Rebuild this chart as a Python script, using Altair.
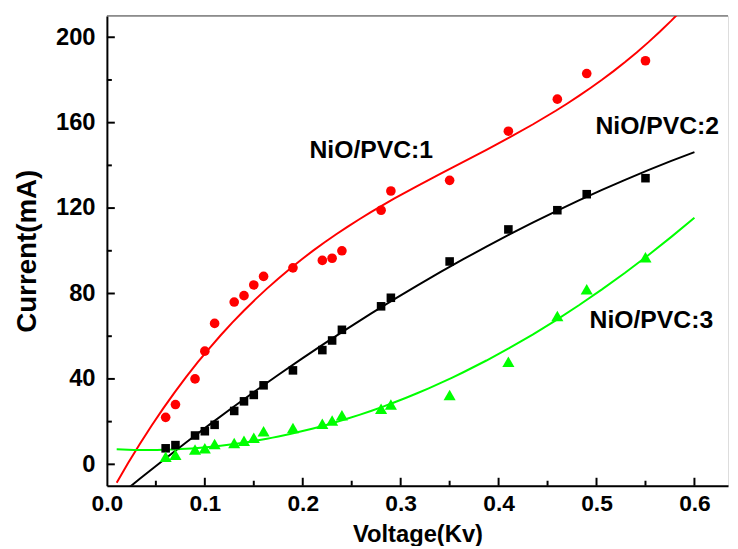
import altair as alt
import pandas as pd

# ---- data ----
voltage = [0.06, 0.07, 0.09, 0.10, 0.11, 0.13, 0.14, 0.15, 0.16, 0.19,
           0.22, 0.23, 0.24, 0.28, 0.29, 0.35, 0.41, 0.46, 0.49, 0.55]
current_1 = [22, 28, 40, 53, 66, 76, 79, 84, 88, 92,
             95.5, 96.5, 100, 119, 128, 133, 156, 171, 183, 189]
current_2 = [7.5, 9, 13.5, 15.5, 18.5, 25, 29.5, 32.5, 37, 44,
             53.5, 58, 63, 74, 78, 95, 110, 119, 126.5, 134]
current_3 = [3.5, 4.5, 7, 7.5, 9.5, 10, 11, 12.5, 15.5, 17,
             19, 20.5, 23, 26, 28, 32.5, 48, 69.5, 82, 97]

series_names = ["NiO/PVC:1", "NiO/PVC:2", "NiO/PVC:3"]
series_colors = ["#ff0000", "#000000", "#00ff00"]
series_shapes = ["circle", "square", "triangle-up"]
series_sizes = [95, 75, 150]
fit_orders = [3, 2, 2]

label_x = [0.27, 0.562, 0.556]
label_y = [147, 158.5, 67.5]

x_labels = [0.0, 0.1, 0.2, 0.3, 0.4, 0.5, 0.6]
x_minor = [0.05, 0.15, 0.25, 0.35, 0.45, 0.55]
y_labels = [0, 40, 80, 120, 160, 200]
y_minor = [20, 60, 100, 140, 180]

rows = []
for name, cur in zip(series_names, [current_1, current_2, current_3]):
    for v, c in zip(voltage, cur):
        rows.append({"series": name, "V": v, "I": c})
df = pd.DataFrame(rows)
labels_df = pd.DataFrame({"text": series_names, "V": label_x, "I": label_y})

W, H = 628, 475
FONT = "Liberation Sans"

xscale = alt.Scale(domain=[0, 0.6343], nice=False, zero=False)
yscale = alt.Scale(domain=[-10, 210], nice=False, zero=False)
color = alt.Color("series:N", scale=alt.Scale(domain=series_names, range=series_colors), legend=None)

xaxis = alt.Axis(values=x_labels, format=".1f", ticks=False, grid=False,
                 domainColor="black", domainWidth=2,
                 labelFont=FONT, labelFontSize=23, labelFontWeight="bold", labelColor="black",
                 labelPadding=7, labelFlush=False,
                 title="Voltage(Kv)", titleFont=FONT, titleFontSize=24, titleFontWeight="bold",
                 titleColor="black", titleBaseline="alphabetic", titleY=56)
yaxis = alt.Axis(values=y_labels, ticks=False, grid=False,
                 domainColor="black", domainWidth=2,
                 labelFont=FONT, labelFontSize=24, labelFontWeight="bold", labelColor="black",
                 labelPadding=12, labelFlush=False,
                 title="Current(mA)", titleFont=FONT, titleFontSize=28, titleFontWeight="bold",
                 titleColor="black", titlePadding=14)

base = alt.Chart(df)

point_layers = []
for i, (name, shp, sz) in enumerate(zip(series_names, series_shapes, series_sizes)):
    enc_x = alt.X("V:Q", scale=xscale, axis=xaxis) if i == 0 else alt.X("V:Q", scale=xscale)
    enc_y = alt.Y("I:Q", scale=yscale, axis=yaxis) if i == 0 else alt.Y("I:Q", scale=yscale)
    point_layers.append(
        base.transform_filter(alt.datum.series == name).mark_point(
            filled=True, opacity=1, strokeWidth=0, shape=shp, size=sz
        ).encode(x=enc_x, y=enc_y, color=color)
    )

fit_layers = []
for name, order in zip(series_names, fit_orders):
    fit_layers.append(
        base.transform_filter(alt.datum.series == name).transform_regression(
            "V", "I", groupby=["series"], method="poly", order=order, extent=[0.01, 0.6]
        ).mark_line(strokeWidth=2, clip=True).encode(
            x=alt.X("V:Q", scale=xscale),
            y=alt.Y("I:Q", scale=yscale),
            color=color,
        )
    )

texts = alt.Chart(labels_df).mark_text(
    font=FONT, fontSize=25, fontWeight="bold", color="black", baseline="middle", align="center"
).encode(
    x=alt.X("V:Q", scale=xscale),
    y=alt.Y("I:Q", scale=yscale),
    text="text:N",
)

xt_major = alt.Chart(pd.DataFrame({"v": x_labels[1:]})).mark_rule(color="black", strokeWidth=2).encode(
    x=alt.X("v:Q", scale=xscale), y=alt.value(H), y2=alt.value(H - 8))
xt_minor = alt.Chart(pd.DataFrame({"v": x_minor})).mark_rule(color="black", strokeWidth=2).encode(
    x=alt.X("v:Q", scale=xscale), y=alt.value(H), y2=alt.value(H - 5))
yt_major = alt.Chart(pd.DataFrame({"v": y_labels})).mark_rule(color="black", strokeWidth=2).encode(
    y=alt.Y("v:Q", scale=yscale), x=alt.value(0), x2=alt.value(8))
yt_minor = alt.Chart(pd.DataFrame({"v": y_minor})).mark_rule(color="black", strokeWidth=2).encode(
    y=alt.Y("v:Q", scale=yscale), x=alt.value(0), x2=alt.value(5))
top_border = alt.Chart(pd.DataFrame({"v": [210]})).mark_rule(color="#444444", strokeWidth=1).encode(
    y=alt.Y("v:Q", scale=yscale), x=alt.value(0), x2=alt.value(W))

chart = alt.layer(
    top_border, xt_major, xt_minor, yt_major, yt_minor, *fit_layers, *point_layers, texts
).properties(
    width=W, height=H,
    padding={"left": 100, "top": 5, "right": 2, "bottom": 58},
    autosize=alt.AutoSizeParams(type="none"),
).configure_view(stroke=None).configure(background="white")

chart.save("out.html", embed_options={"renderer": "svg", "actions": False})
